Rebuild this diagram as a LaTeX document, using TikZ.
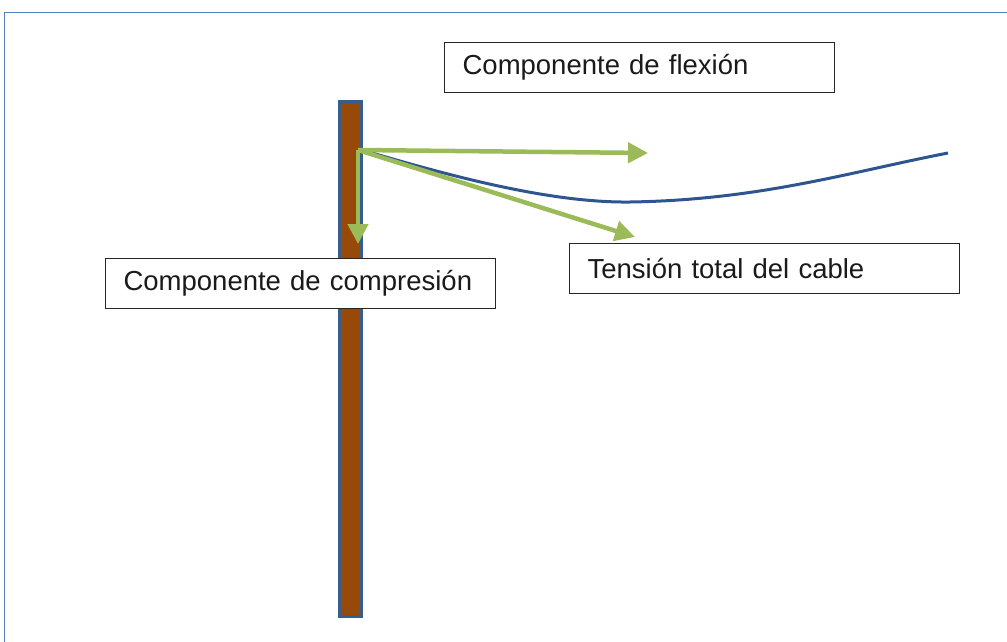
\documentclass[tikz,border=0pt]{standalone}
\usepackage{fontspec}
\setmainfont{Liberation Sans}
\usetikzlibrary{arrows.meta}
\definecolor{frameblue}{HTML}{4F81BD}
\definecolor{poleblue}{HTML}{385D8A}
\definecolor{polebrown}{HTML}{984807}
\definecolor{cableblue}{HTML}{2F5590}
\definecolor{arrowgreen}{HTML}{9BBB59}
\definecolor{textgray}{HTML}{1A1A1A}
\begin{document}
\begin{tikzpicture}[x=1pt,y=-1pt,
  label box/.style={draw=black!85,fill=white,line width=1.2pt,minimum width=390pt,minimum height=50pt,
    text width=354pt,align=left,inner sep=0pt,text=textgray,font=\fontsize{27.5}{30}\selectfont},
  force/.style={draw=arrowgreen,line width=4.5pt,-{Triangle[length=20pt,width=20pt]}}]
\useasboundingbox (0,0) rectangle (1007,642);
\draw[frameblue,line width=1.5pt] (4.5,700) -- (4.5,12.5) -- (1100,12.5);
\node[draw=poleblue,fill=polebrown,line width=3pt,minimum width=22pt,minimum height=515pt,inner sep=0pt,anchor=north west]
  (pole) at (338,99.5) {};
\coordinate (top) at (358,150);
\coordinate (cs) at (362,150);
\coordinate (ce) at (948,153);
\draw[cableblue,line width=3pt] (cs) .. controls (450,176) and (550,203) .. (630,202) .. controls (760,200) and (850,172) .. (ce);
\node[label box,anchor=north west] (flex) at (444,42) {Componente de flexión};
\node[label box,anchor=north west] (comp) at (105,258) {Componente de compresión};
\node[label box,anchor=north west] (tens) at (569,243) {Tensión total del cable};
\coordinate (h) at (648,153);
\coordinate (v) at (358,244);
\coordinate (d) at (635,237);
\draw[force] (top) -- (h);
\draw[force] (top) -- (v);
\draw[force] (top) -- (d);
\end{tikzpicture}
\end{document}
